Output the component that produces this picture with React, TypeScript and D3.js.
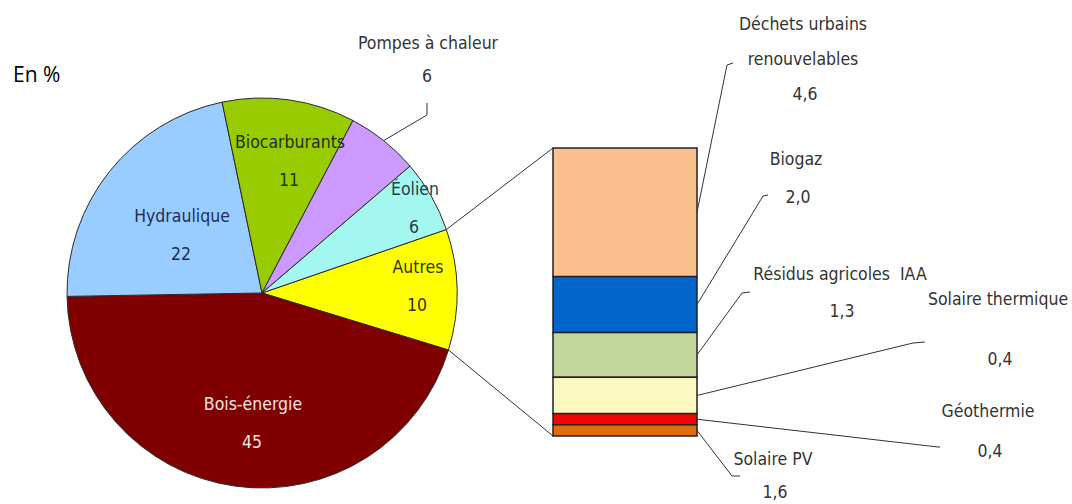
import React from 'react';
import * as d3 from 'd3';

// Pie: share of each renewable source, in %
const pieNames = ['Autres', 'Bois-énergie', 'Hydraulique', 'Biocarburants', 'Pompes à chaleur', 'Éolien'];
const pieValues = [10, 45, 22, 11, 6, 6];
const pieColors = ['#ffff00', '#800000', '#99ccff', '#99cc00', '#cc99ff', '#a3f7f0'];

// Breakdown of "Autres" (segment sizes as drawn, top to bottom)
const stackNames = ['Déchets urbains renouvelables', 'Biogaz', 'Résidus agricoles  IAA', 'Solaire thermique', 'Géothermie', 'Solaire PV'];
const stackValues = [4.6, 2.0, 1.6, 1.3, 0.4, 0.4];
const stackLabels = ['4,6', '2,0', '1,3', '0,4', '0,4', '1,6'];
const stackColors = ['#fac08f', '#0066cc', '#c3d69b', '#fbf9c0', '#ff0000', '#e46c0a'];

const FONT = '"DejaVu Sans Condensed", "Liberation Sans Narrow", sans-serif';
const FS = 17.5;

// label layout inside / around the pie
const pieLabelPos: Record<string, { x: number; y: number; fill: string }> = {
  'Autres': { x: 418, y: 273, fill: '#333300' },
  'Bois-énergie': { x: 253, y: 410, fill: '#f4e4e4' },
  'Hydraulique': { x: 182, y: 222, fill: '#1f2f55' },
  'Biocarburants': { x: 290, y: 148, fill: '#1c3300' },
  'Pompes à chaleur': { x: 428, y: 49, fill: '#333333' },
  'Éolien': { x: 415, y: 195, fill: '#1f3f4a' },
};

// label layout for the bar breakdown: name lines, value line, leader elbow
const stackLabelPos = [
  { x: 803, lines: [30, 65], vy: 100, elbow: [727, 65], stub: [733, 63] },
  { x: 796, lines: [165], vy: 203, elbow: [763, 196], stub: [768, 195] },
  { x: 840, lines: [280], vy: 317, elbow: [742, 293], stub: [750, 292] },
  { x: 998, lines: [305], vy: 365, elbow: [913, 343], stub: [925, 342] },
  { x: 988, lines: [417], vy: 457, elbow: [938, 447], stub: [940, 447] },
  { x: 773, lines: [465], vy: 498, elbow: [732, 476], stub: [740, 476] },
];

export default function App() {
  const cx = 262;
  const cy = 293;
  const r = 195;
  const start = (71 * Math.PI) / 180;

  const pie = d3
    .pie<number>()
    .sort(null)
    .value((d) => d)
    .startAngle(start)
    .endAngle(start + 2 * Math.PI);
  const arcs = pie(pieValues);
  const arc = d3.arc<d3.PieArcDatum<number>>().innerRadius(0).outerRadius(r);
  const rim = d3.arc<d3.PieArcDatum<number>>().innerRadius(r).outerRadius(r);

  const polar = (a: number) => [cx + r * Math.sin(a), cy - r * Math.cos(a)];

  const total = d3.sum(stackValues);
  const barX0 = 553;
  const barX1 = 697;
  const y = d3.scaleLinear().domain([0, total]).range([148, 436]);
  const cum = d3.cumsum(stackValues);
  const segs = stackValues.map((v, i) => ({ y0: cum[i] - v, y1: cum[i], i }));

  const autres = arcs[0];
  const pTop = polar(autres.startAngle);
  const pBot = polar(autres.endAngle);

  const pompesIdx = pieNames.indexOf('Pompes à chaleur');
  const pompesRim = rim.centroid(arcs[pompesIdx]);

  return (
    <svg
      width={1072}
      height={504}
      style={{ position: 'absolute', left: 0, top: 0, display: 'block', background: '#fff' }}
    >
      <text x={13} y={82} fontFamily='"Open Sans", sans-serif' fontSize={21} fill="#000">
        En %
      </text>

      <g transform={`translate(${cx},${cy})`}>
        {arcs.map((a, i) => (
          <path key={i} d={arc(a) || ''} fill={pieColors[i]} stroke="#2a2a2a" strokeWidth={1} />
        ))}
      </g>

      {/* pie labels */}
      {pieNames.map((n, i) => {
        const p = pieLabelPos[n];
        const outside = n === 'Pompes à chaleur';
        return (
          <g key={n} fontFamily={FONT} fontSize={FS} textAnchor="middle" fill={p.fill}>
            <text x={p.x} y={p.y}>{n}</text>
            <text x={p.x - 1} y={p.y + (outside ? 33 : 38)}>{pieValues[i]}</text>
          </g>
        );
      })}
      <polyline
        points={`${cx + pompesRim[0]},${cy + pompesRim[1]} 427,115 427,103`}
        fill="none"
        stroke="#333"
        strokeWidth={1}
      />

      {/* connectors pie -> bar */}
      <line x1={pTop[0]} y1={pTop[1]} x2={barX0} y2={y(0)} stroke="#333" strokeWidth={1} />
      <line x1={pBot[0]} y1={pBot[1]} x2={barX0} y2={y(total)} stroke="#333" strokeWidth={1} />

      {/* stacked bar */}
      {segs.map((s) => (
        <rect
          key={s.i}
          x={barX0}
          y={y(s.y0)}
          width={barX1 - barX0}
          height={y(s.y1) - y(s.y0)}
          fill={stackColors[s.i]}
          stroke="#222"
          strokeWidth={1.5}
        />
      ))}

      {/* bar labels with leaders */}
      {segs.map((s) => {
        const L = stackLabelPos[s.i];
        const ay = (y(s.y0) + y(s.y1)) / 2;
        const words = s.i === 0 ? ['Déchets urbains', 'renouvelables'] : [stackNames[s.i]];
        return (
          <g key={s.i}>
            <polyline
              points={`${barX1},${ay} ${L.elbow[0]},${L.elbow[1]} ${L.stub[0]},${L.stub[1]}`}
              fill="none"
              stroke="#333"
              strokeWidth={1}
            />
            <g fontFamily={FONT} fontSize={FS} textAnchor="middle" fill="#333">
              {words.map((w, k) => (
                <text key={k} x={L.x} y={L.lines[k]} style={{ whiteSpace: 'pre' }}>
                  {w}
                </text>
              ))}
              <text x={L.x + 2} y={L.vy}>{stackLabels[s.i]}</text>
            </g>
          </g>
        );
      })}
    </svg>
  );
}
